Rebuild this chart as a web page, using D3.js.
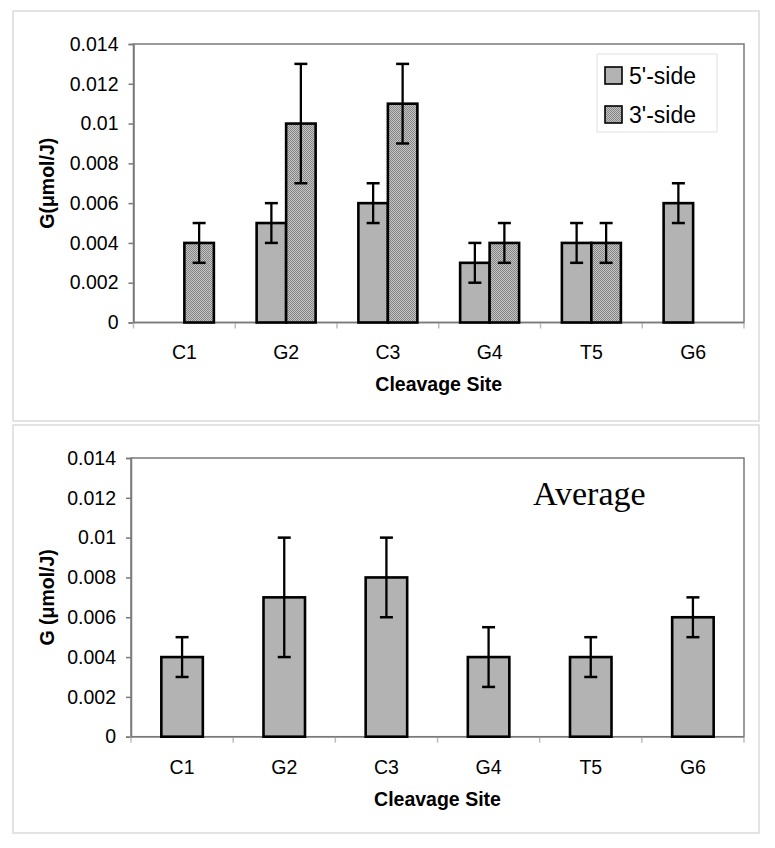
<!DOCTYPE html>
<html><head><meta charset="utf-8">
<script src="https://cdn.jsdelivr.net/npm/d3@7"></script>
<style>body{margin:0;background:#fff}svg{display:block}</style>
</head><body>
<svg id="c" width="775" height="848"></svg>
<script>
const categories = ["C1","G2","C3","G4","T5","G6"];
const seriesNames = ["5'-side","3'-side"];
const side5 = [null, 0.005, 0.006, 0.003, 0.004, 0.006];
const side5Err = [null, 0.001, 0.001, 0.001, 0.001, 0.001];
const side3 = [0.004, 0.010, 0.011, 0.004, 0.004, null];
const side3Err = [0.001, 0.003, 0.002, 0.001, 0.001, null];
const avg = [0.004, 0.007, 0.008, 0.004, 0.004, 0.006];
const avgErr = [0.001, 0.003, 0.002, 0.0015, 0.001, 0.001];
const yTicks = [0, 0.002, 0.004, 0.006, 0.008, 0.01, 0.012, 0.014];

const svg = d3.select("#c");
const defs = svg.append("defs");
const pat = defs.append("pattern").attr("id","hatch").attr("patternUnits","userSpaceOnUse")
  .attr("width",2).attr("height",2);
pat.append("rect").attr("width",2).attr("height",2).attr("fill","#c4c4c4");
pat.append("rect").attr("width",1).attr("height",1).attr("fill","#858585");
pat.append("rect").attr("x",1).attr("y",1).attr("width",1).attr("height",1).attr("fill","#858585");

const FONT = "Arial, 'Liberation Sans', sans-serif";
const GRAY = "#b3b3b3";

function frame(x0,y0,x1,y1){
  svg.append("rect").attr("x",x0).attr("y",y0).attr("width",x1-x0).attr("height",y1-y0)
    .attr("fill","#fff").attr("stroke","#dadada").attr("stroke-width",1.5);
}
frame(13,11,759,421);
frame(13,425,759,833);

function panel(opt){
  const {left,right,top,bottom} = opt;
  const x = d3.scaleBand().domain(categories).range([left,right]);
  const y = d3.scaleLinear().domain([0,0.014]).range([bottom,top]);
  const g = svg.append("g");
  g.append("rect").attr("x",left).attr("y",top).attr("width",right-left).attr("height",bottom-top)
    .attr("fill","#fff").attr("stroke","#7a7a7a").attr("stroke-width",1.5);
  const ya = g.append("g").attr("transform",`translate(${left},0)`)
    .call(d3.axisLeft(y).tickValues(yTicks).tickSize(5).tickPadding(10).tickFormat(d=>d3.format("")(+d.toFixed(3))));
  ya.select(".domain").attr("stroke","#7a7a7a").attr("stroke-width",1.5);
  ya.selectAll(".tick line").attr("stroke","#7a7a7a").attr("stroke-width",1.5);
  ya.selectAll("text").attr("font-family",FONT).attr("font-size",19.5).attr("fill","#000");
  const xa = g.append("g").attr("transform",`translate(0,${bottom})`)
    .call(d3.axisBottom(x).tickSize(0).tickPadding(opt.xPad));
  xa.select(".domain").remove();
  xa.selectAll("text").attr("font-family",FONT).attr("font-size",19.5).attr("fill","#000");
  const bounds = categories.map(c=>x(c)).concat([right]);
  g.selectAll(".xt").data(bounds).join("line")
    .attr("x1",d=>d).attr("x2",d=>d).attr("y1",bottom).attr("y2",bottom+6)
    .attr("stroke","#bdbdbd").attr("stroke-width",1.5);
  g.append("line").attr("x1",left).attr("x2",right).attr("y1",bottom).attr("y2",bottom)
    .attr("stroke","#7a7a7a").attr("stroke-width",1.5);
  g.append("text").attr("x",(left+right)/2).attr("y",opt.xTitleY).attr("text-anchor","middle")
    .attr("font-family",FONT).attr("font-weight","bold").attr("font-size",19.5).text("Cleavage Site");
  g.append("text").attr("transform",`translate(${opt.yTitleX},${(top+bottom)/2}) rotate(-90)`)
    .attr("text-anchor","middle").attr("font-family",FONT).attr("font-weight","bold").attr("font-size",19.5)
    .text(opt.yTitle);
  return {x,y,g};
}

function bars(p, vals, errs, xoff, w, fill){
  const {x,y,g} = p;
  const data = categories.map((c,i)=>({c,v:vals[i],e:errs[i]})).filter(d=>d.v!=null);
  g.selectAll(null).data(data).join("rect")
    .attr("x",d=>x(d.c)+xoff).attr("width",w)
    .attr("y",d=>y(d.v)).attr("height",d=>y(0)-y(d.v))
    .attr("fill",fill).attr("stroke","#000").attr("stroke-width",2.6);
  const cx = d=>x(d.c)+xoff+w/2;
  const eg = g.selectAll(null).data(data).join("g");
  eg.append("line").attr("x1",cx).attr("x2",cx).attr("y1",d=>y(d.v+d.e)).attr("y2",d=>y(d.v-d.e))
    .attr("stroke","#000").attr("stroke-width",2.3);
  eg.append("line").attr("x1",d=>cx(d)-6.5).attr("x2",d=>cx(d)+6.5).attr("y1",d=>y(d.v+d.e)).attr("y2",d=>y(d.v+d.e))
    .attr("stroke","#000").attr("stroke-width",2.5);
  eg.append("line").attr("x1",d=>cx(d)-6.5).attr("x2",d=>cx(d)+6.5).attr("y1",d=>y(d.v-d.e)).attr("y2",d=>y(d.v-d.e))
    .attr("stroke","#000").attr("stroke-width",2.5);
}

const p1 = panel({left:133.5,right:744,top:44,bottom:322.5,xPad:23,xTitleY:391,yTitleX:54,yTitle:"G(\u03bcmol/J)"});
const bw1 = 29.5;
const half1 = p1.x.bandwidth()/2;
bars(p1, side5, side5Err, half1-bw1, bw1, GRAY);
bars(p1, side3, side3Err, half1, bw1, "url(#hatch)");
const lg = svg.append("g");
lg.append("rect").attr("x",597).attr("y",54).attr("width",120).attr("height",78)
  .attr("fill","#fff").attr("stroke","#e0e0e0").attr("stroke-width",1);
const legFills = [GRAY,"url(#hatch)"];
seriesNames.forEach((s,i)=>{
  lg.append("rect").attr("x",605).attr("y",67+i*39).attr("width",17).attr("height",17)
    .attr("fill",legFills[i]).attr("stroke","#000").attr("stroke-width",1.6);
  lg.append("text").attr("x",629).attr("y",83.5+i*39.5).attr("font-family",FONT).attr("font-size",23)
    .text(s);
});

const p2 = panel({left:131,right:744,top:458,bottom:736.7,xPad:23,xTitleY:806,yTitleX:54,yTitle:"G (\u03bcmol/J)"});
const bw2 = 41.5;
bars(p2, avg, avgErr, p2.x.bandwidth()/2-bw2/2, bw2, GRAY);
svg.append("text").attr("x",533).attr("y",505).attr("font-family","'Times New Roman','Liberation Serif',serif")
  .attr("font-size",34).text("Average");
</script>
</body></html>
